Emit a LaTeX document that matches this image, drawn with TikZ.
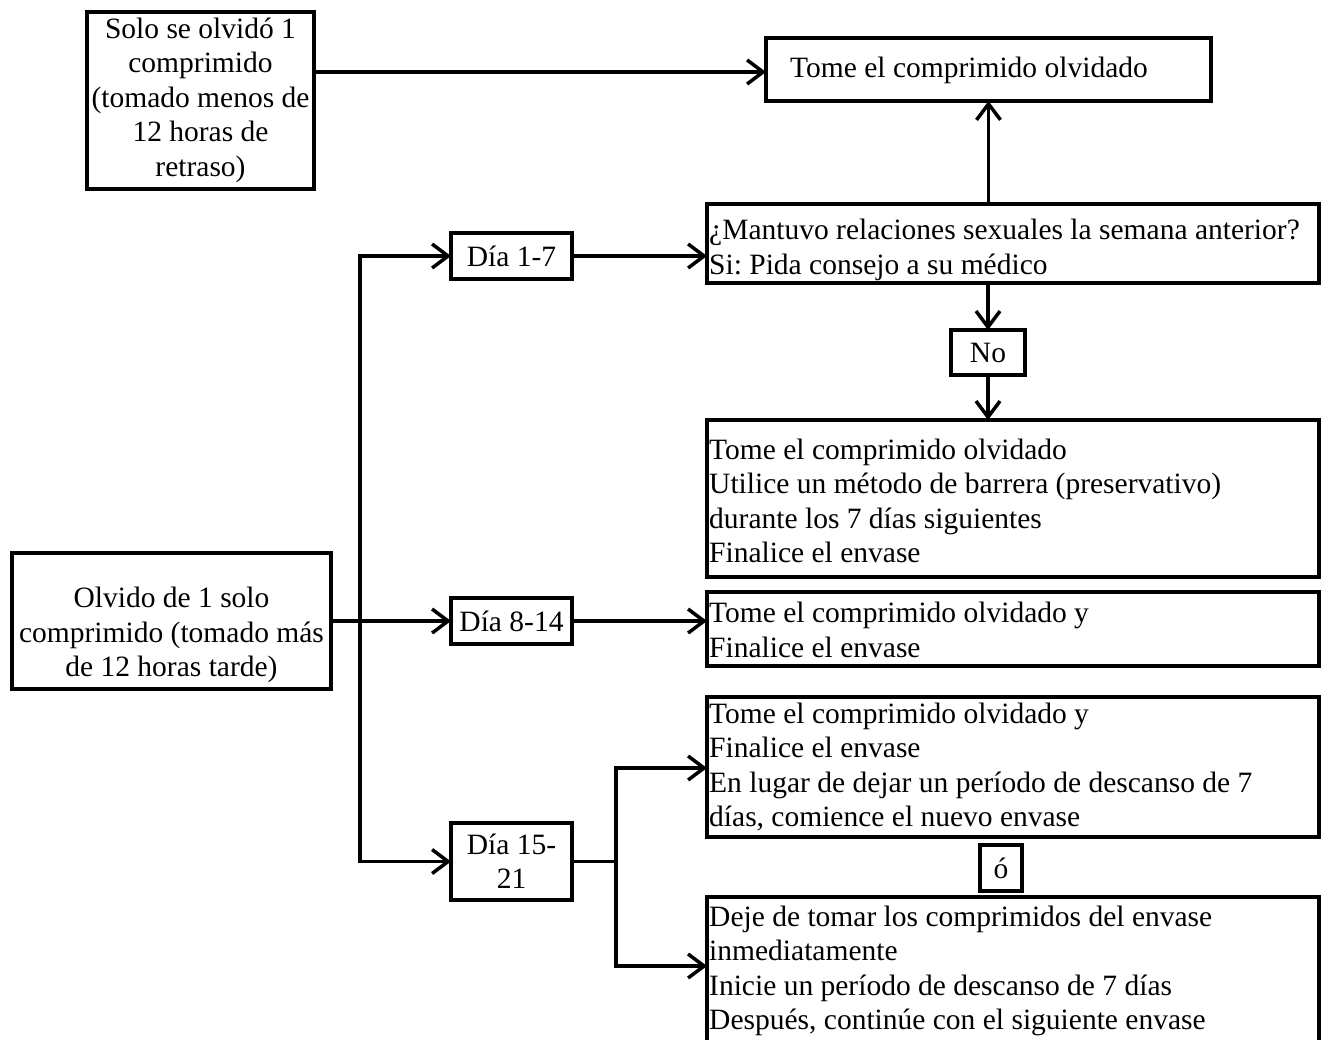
\documentclass[tikz,border=0pt]{standalone}
\usepackage{fontspec}
\setmainfont{Liberation Serif}
\usetikzlibrary{arrows.meta}
\frenchspacing
\begin{document}
\begin{tikzpicture}[x=1pt,y=-1pt,
  frame/.style={draw, line width=3.5pt, inner sep=0pt, outer sep=0pt, anchor=north west},
  txt/.style={inner sep=0pt, font=\fontsize{29.5}{34.5}\selectfont},
  ctxt/.style={txt, align=center},
  ltxt/.style={txt, align=left, anchor=west},
  conn/.style={line width=3.5pt, line join=miter},
  arr/.style={conn, -{Straight Barb[length=16pt,width=24pt,line width=3.5pt]}}]
\useasboundingbox (0,0) rectangle (1328,1039);
\clip (0,0) rectangle (1328,1039);

% frames
\node[frame, minimum width=227pt, minimum height=177pt] (b1) at (87,12) {};
\node[frame, minimum width=445pt, minimum height=63pt] (b2) at (766,38) {};
\node[frame, minimum width=612pt, minimum height=79pt] (b3) at (707,204) {};
\node[frame, minimum width=74pt, minimum height=45pt] (no) at (951,330) {};
\node[frame, minimum width=612pt, minimum height=157pt] (b4) at (707,420) {};
\node[frame, minimum width=319pt, minimum height=136pt] (olv) at (12,553) {};
\node[frame, minimum width=121pt, minimum height=46pt] (d1) at (451,233) {};
\node[frame, minimum width=121pt, minimum height=46pt] (d2) at (451,598) {};
\node[frame, minimum width=121pt, minimum height=77pt] (d3) at (451,823) {};
\node[frame, minimum width=612pt, minimum height=74pt] (b5) at (707,592) {};
\node[frame, minimum width=612pt, minimum height=140pt] (b6) at (707,697) {};
\node[frame, minimum width=42pt, minimum height=46pt] (o) at (980,845) {};
\node[frame, minimum width=612pt, minimum height=200pt] (b7) at (707,897) {};

% texts
\node[ctxt] (b1t) at (200.5,100) {Solo se olvidó 1\\comprimido\\(tomado menos de\\12 horas de\\retraso)};
\node[ltxt] (b2t) at (790,70) {Tome el comprimido olvidado};
\node[ltxt] (b3t) at (709,250) {¿Mantuvo relaciones sexuales la semana anterior?\\Si: Pida consejo a su médico};
\node[ctxt] (not) at (988,352.5) {No};
\node[ltxt] (b4t) at (709,501) {Tome el comprimido olvidado\\Utilice un método de barrera (preservativo)\\durante los 7 días siguientes\\Finalice el envase};
\node[ctxt] (olvt) at (171.5,635) {Olvido de 1 solo\\comprimido (tomado más\\de 12 horas tarde)};
\node[ctxt] (d1t) at (511.5,256) {Día 1-7};
\node[ctxt] (d2t) at (511.5,621) {Día 8-14};
\node[ctxt] (d3t) at (511.5,861) {Día 15-\\21};
\node[ltxt] (b5t) at (709,630) {Tome el comprimido olvidado y\\Finalice el envase};
\node[ltxt] (b6t) at (709,767) {Tome el comprimido olvidado y\\Finalice el envase\\En lugar de dejar un período de descanso de 7\\días, comience el nuevo envase};
\node[ctxt] (ot) at (1001,868) {ó};
\node[ltxt] (b7t) at (709,971) {Deje de tomar los comprimidos del envase\\inmediatamente\\Inicie un período de descanso de 7 días\\Después, continúe con el siguiente envase};

% coordinates
\coordinate (ttop) at (360,256);
\coordinate (tbot) at (360,861.5);
\coordinate (tmid) at (360,621);
\coordinate (s) at (616,861.5);
\coordinate (s1) at (616,768);
\coordinate (s2) at (616,966);

% connectors
\draw[arr] (b1.east |- 0,72) -- (b2.west |- 0,72);
\draw[arr] (b2.south |- b3.north) -- (b2.south);
\draw[arr] (no.north |- b3.south) -- (no.north);
\draw[arr] (no.south) -- (no.south |- b4.north);
\draw[conn] (olv.east |- tmid) -- (tmid);
\draw[arr] (tbot) -- (ttop) -- (d1.west);
\draw[arr] (ttop) -- (tbot) -- (d3.west);
\draw[arr] (tmid) -- (d2.west);
\draw[arr] (d1.east) -- (d1.east -| b3.west);
\draw[arr] (d2.east) -- (d2.east -| b5.west);
\draw[conn] (d3.east) -- (s);
\draw[arr] (s2) -- (s1) -- (s1 -| b6.west);
\draw[arr] (s1) -- (s2) -- (s2 -| b7.west);
\end{tikzpicture}
\end{document}
